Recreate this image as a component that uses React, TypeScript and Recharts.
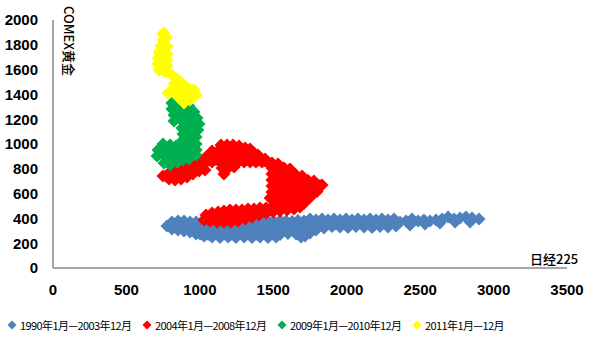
import React from 'react';
import { ScatterChart, Scatter, XAxis, YAxis, Legend, Label } from 'recharts';

type Pt = [number, number];

const xTicks = [0, 500, 1000, 1500, 2000, 2500, 3000, 3500];
const yTicks = [0, 200, 400, 600, 800, 1000, 1200, 1400, 1600, 1800, 2000];
const xTitle = '日经225';
const yTitle = 'COMEX黄金';
const seriesNames = ['1990年1月—2003年12月', '2004年1月—2008年12月', '2009年1月—2010年12月', '2011年1月—12月'];

// 1990-2003 (x: 日经225, y: COMEX黄金)
const blue: Pt[] = [
  [2901, 395], [2853, 403], [2812, 411], [2772, 403], [2731, 395], [2690, 411], [2649, 395], [2608, 387],
  [2567, 379], [2526, 387], [2486, 379], [2445, 395], [2404, 379], [2363, 371],
  [2840, 371], [2738, 371], [2635, 363], [2533, 355], [2431, 347],
  [2322, 395], [2281, 387], [2240, 395], [2200, 387], [2159, 395], [2118, 387], [2077, 395], [2036, 387],
  [1995, 395], [1954, 387], [1914, 395], [1873, 387], [1832, 395], [1791, 387], [1750, 395],
  [2329, 355], [2261, 359], [2193, 351], [2125, 355], [2057, 359], [1989, 351], [1920, 355], [1852, 359],
  [2336, 339], [2281, 331], [2227, 335], [2172, 327], [2118, 331], [2063, 335], [2009, 327], [1954, 331],
  [1900, 335], [1845, 323], [1791, 306], [1750, 282], [1716, 258], [1689, 250],
  [1723, 339], [1764, 323], [1811, 335], [1737, 306], [1770, 363], [1703, 282],
  [1709, 379], [1668, 383], [1628, 375], [1587, 379], [1546, 383], [1505, 375], [1464, 379], [1423, 383],
  [1382, 375], [1342, 379], [1301, 383], [1260, 375], [1219, 379], [1178, 383], [1137, 375], [1096, 379],
  [1056, 383], [1015, 375],
  [1634, 347], [1580, 351], [1525, 343], [1471, 347], [1417, 351], [1362, 343], [1308, 347], [1253, 351],
  [1199, 343], [1144, 347], [1090, 351], [1035, 343],
  [1682, 323], [1628, 319], [1573, 327], [1519, 323], [1464, 319], [1410, 327], [1355, 323], [1301, 319],
  [1246, 327], [1192, 323], [1137, 319], [1083, 327], [1028, 323],
  [1662, 298], [1607, 302], [1553, 294], [1498, 298], [1444, 302], [1389, 294], [1335, 298], [1280, 302],
  [1226, 294], [1171, 298], [1117, 302], [1062, 294],
  [1655, 274], [1600, 278], [1546, 270], [1491, 274], [1437, 278], [1382, 270], [1328, 274], [1273, 278],
  [1219, 270], [1164, 274], [1110, 278], [1056, 270], [1001, 274],
  [1519, 250], [1464, 246], [1410, 250], [1355, 246], [1301, 250], [1246, 246], [1192, 250], [1137, 246], [1083, 250],
  [776, 339], [810, 371], [810, 314], [851, 379], [851, 306], [892, 379], [892, 298], [933, 371],
  [933, 290], [974, 371], [974, 274], [1001, 339], [865, 339], [919, 331], [960, 323], [831, 343],
  [1035, 290], [1028, 258],
];

// 2004-2008
const red: Pt[] = [
  [749, 742], [790, 718], [831, 710], [872, 718], [913, 734], [953, 758], [994, 782], [790, 766],
  [831, 774], [878, 790], [919, 823], [960, 855], [1001, 871], [1028, 839], [1035, 790],
  [865, 758], [913, 782], [960, 807], [1001, 823],
  [838, 742], [878, 750], [919, 758], [960, 782], [1015, 815], [769, 742], [810, 742],
  [1144, 992], [1185, 992], [1226, 992], [1267, 984], [1308, 968], [1342, 960],
  [1083, 944], [1124, 944], [1164, 944], [1205, 944], [1246, 944], [1287, 944], [1328, 936], [1369, 928],
  [1396, 911], [1103, 919], [1144, 919], [1185, 919], [1226, 919], [1267, 919], [1308, 919], [1349, 911],
  [1042, 895], [1083, 895], [1124, 895], [1164, 895], [1205, 895], [1246, 895], [1287, 895], [1328, 895],
  [1369, 895], [1410, 887], [1444, 879],
  [1083, 855], [1137, 855], [1178, 855], [1219, 855], [1260, 855], [1301, 855], [1342, 855], [1382, 855],
  [1423, 855], [1464, 855], [1062, 871], [1110, 875], [1158, 875], [1199, 875], [1240, 875], [1280, 875],
  [1321, 875], [1362, 875], [1403, 871], [1444, 863],
  [1151, 807], [1192, 807], [1164, 758], [1233, 815], [1171, 831], [1212, 831],
  [1491, 847], [1532, 839],
  [1491, 807], [1532, 807], [1573, 807], [1614, 799],
  [1491, 758], [1532, 758], [1573, 758], [1614, 758], [1655, 750], [1696, 742],
  [1491, 710], [1532, 710], [1573, 710], [1614, 710], [1655, 710], [1696, 710], [1737, 706], [1777, 702],
  [1491, 661], [1532, 661], [1573, 661], [1614, 661], [1655, 661], [1696, 661], [1737, 661], [1777, 661],
  [1818, 665], [1832, 669],
  [1491, 613], [1532, 613], [1573, 613], [1614, 613], [1655, 613], [1696, 613], [1737, 613], [1777, 613], [1798, 617],
  [1478, 565], [1519, 565], [1560, 565], [1600, 565], [1641, 565], [1682, 565], [1723, 565], [1750, 569],
  [1519, 516], [1560, 516], [1600, 516], [1641, 516], [1682, 516], [1709, 520],
  [1042, 427], [1083, 444], [1124, 452], [1164, 460], [1205, 468], [1246, 468], [1287, 468], [1328, 476],
  [1369, 476], [1410, 484], [1451, 484], [1491, 492],
  [1028, 387], [1069, 379], [1117, 371], [1164, 371], [1212, 371], [1260, 379], [1308, 395], [1355, 411],
  [1403, 427], [1451, 444], [1498, 452], [1546, 460], [1594, 468], [1641, 476], [1682, 492],
  [1062, 411], [1110, 411], [1158, 415], [1205, 419], [1253, 423], [1301, 431], [1349, 444], [1396, 456],
  [1444, 464],
];

// 2009-2010
const green: Pt[] = [
  [810, 1331], [851, 1339], [892, 1323], [926, 1307],
  [810, 1282], [851, 1290], [906, 1274], [851, 1258], [960, 1258],
  [824, 1234], [872, 1234], [933, 1234], [981, 1210], [906, 1210],
  [824, 1186], [878, 1186], [933, 1178], [994, 1161], [906, 1153], [960, 1145],
  [878, 1129], [933, 1121], [987, 1113], [913, 1097],
  [885, 1081], [940, 1073], [974, 1057], [913, 1049],
  [885, 1032], [940, 1024], [974, 1000], [913, 1000],
  [878, 984], [933, 976], [974, 952], [913, 952],
  [878, 936], [933, 927], [974, 911], [906, 903], [851, 903],
  [749, 1000], [715, 952], [749, 952], [708, 903], [756, 903], [804, 952], [838, 984], [797, 887],
  [838, 919], [756, 847], [797, 831], [844, 855], [885, 871], [926, 879], [797, 992], [776, 927],
  [735, 927], [776, 871], [817, 855],
];

// 2011
const yellow: Pt[] = [
  [749, 1887], [749, 1839], [735, 1790], [722, 1742], [715, 1694], [715, 1645], [722, 1597], [763, 1581],
  [776, 1629], [776, 1677], [776, 1726], [776, 1790], [770, 1855], [756, 1895],
  [810, 1557], [844, 1524], [878, 1492], [824, 1484], [810, 1436], [783, 1411], [838, 1419], [878, 1444],
  [919, 1452], [960, 1436], [974, 1395], [933, 1355], [892, 1331], [851, 1379],
  [865, 1395], [906, 1395], [838, 1468], [851, 1440], [742, 1621], [742, 1718], [756, 1766],
];

const seriesData = [blue, red, green, yellow];
const colors = ['#4f81bd', '#ff0000', '#00b050', '#ffff00'];

const toRows = (pts: Pt[]) => pts.map(([x, y]) => ({ x, y }));

const R = 6.5;
const Diamond = (props: any) => {
  const { cx, cy, fill } = props;
  if (cx == null || cy == null) return null;
  return (
    <polygon
      points={`${cx},${cy - R} ${cx + R},${cy} ${cx},${cy + R} ${cx - R},${cy}`}
      fill={fill}
      stroke="none"
    />
  );
};

const renderLegend = (props: any) => {
  const payload = props.payload || [];
  return (
    <div
      style={{
        display: 'flex',
        alignItems: 'center',
        paddingLeft: 7,
        height: 20,
        fontFamily: '"Noto Sans CJK SC", sans-serif',
        fontSize: 11,
        letterSpacing: -0.6,
        color: '#000',
      }}
    >
      {payload.map((entry: any, i: number) => (
        <div key={i} style={{ width: 135, display: 'flex', alignItems: 'center', flex: '0 0 auto' }}>
          <svg width={10} height={10} style={{ display: 'block' }}>
            <polygon points="5,0.5 9.5,5 5,9.5 0.5,5" fill={entry.color} />
          </svg>
          <span style={{ marginLeft: 3, whiteSpace: 'nowrap' }}>{entry.value}</span>
        </div>
      ))}
    </div>
  );
};

const tickStyle = { fontFamily: '"Liberation Sans", Arial, sans-serif', fontSize: 15, fontWeight: 700, fill: '#000' };

export default function App() {
  return (
    <div style={{ position: 'absolute', left: 0, top: 0, width: 596, height: 347, background: '#fff' }}>
      <ScatterChart width={596} height={347} margin={{ top: 20, right: 29, bottom: 29, left: 8 }}>
        <XAxis
          type="number"
          dataKey="x"
          domain={[0, 3500]}
          ticks={xTicks}
          interval={0}
          tickLine={false}
          tickSize={0}
          tickMargin={16}
          height={30}
          axisLine={{ stroke: '#8a8a8a', strokeWidth: 1.5 }}
          tick={tickStyle}
        >
          <Label
            content={(p: any) => {
              const vb = p.viewBox || {};
              return (
                <text
                  x={vb.x + vb.width - 37}
                  y={vb.y - 10}
                  dominantBaseline="central"
                  fontFamily='"Noto Sans CJK SC", sans-serif'
                  fontSize={13}
                  fontWeight={500}
                  fill="#000"
                >
                  {xTitle}
                </text>
              );
            }}
          />
        </XAxis>
        <YAxis
          type="number"
          dataKey="y"
          domain={[0, 2000]}
          ticks={yTicks}
          interval={0}
          tickLine={false}
          tickSize={0}
          tickMargin={15}
          width={45}
          axisLine={{ stroke: '#8a8a8a', strokeWidth: 1.5 }}
          tick={tickStyle}
        >
          <Label
            content={(p: any) => {
              const vb = p.viewBox || {};
              const tx = vb.x + vb.width + 16;
              const ty = vb.y + 21;
              return (
                <text
                  x={tx}
                  y={ty}
                  textAnchor="middle"
                  dominantBaseline="central"
                  transform={`rotate(90 ${tx} ${ty})`}
                  fontFamily='"Noto Sans CJK SC", sans-serif'
                  fontSize={13}
                  fontWeight={500}
                  fill="#000"
                >
                  {yTitle}
                </text>
              );
            }}
          />
        </YAxis>
        <Legend
          verticalAlign="bottom"
          content={renderLegend}
          wrapperStyle={{ left: 0, top: 315, width: 596, height: 20 }}
        />
        {seriesData.map((d, i) => (
          <Scatter
            key={seriesNames[i]}
            name={seriesNames[i]}
            data={toRows(d)}
            fill={colors[i]}
            shape={Diamond}
            isAnimationActive={false}
            legendType="diamond"
          />
        ))}
      </ScatterChart>
    </div>
  );
}
